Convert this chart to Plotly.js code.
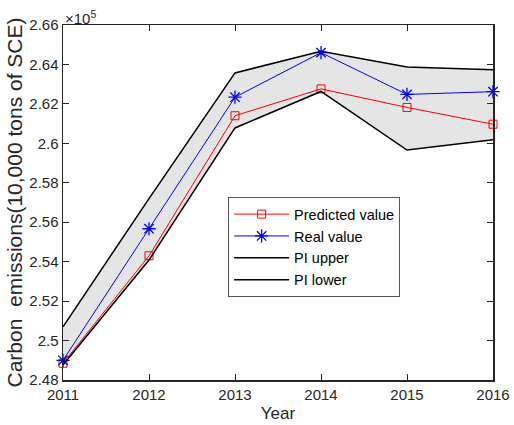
<!DOCTYPE html>
<html>
<head>
<meta charset="utf-8">
<script src="https://cdn.plot.ly/plotly-3.0.1.min.js"></script>
<style>html,body{margin:0;padding:0;background:#fff;}</style>
</head>
<body>
<div id="chart" style="width:514px;height:425px;"></div>
<script>
// Values in units of 10^5 (10,000 tons of SCE)
var years = [2011, 2012, 2013, 2014, 2015, 2016];
var predicted = [2.4885, 2.5430, 2.6140, 2.6276, 2.6182, 2.6097];
var real = [2.4900, 2.5567, 2.6234, 2.6460, 2.6248, 2.6262];
var piUpper = [2.5070, 2.5720, 2.6357, 2.6467, 2.6387, 2.6373];
var piLower = [2.4876, 2.5408, 2.6078, 2.6263, 2.5966, 2.6018];
var yTickVals = [2.48, 2.50, 2.52, 2.54, 2.56, 2.58, 2.60, 2.62, 2.64, 2.66];
var yTickText = ['2.48', '2.5', '2.52', '2.54', '2.56', '2.58', '2.6', '2.62', '2.64', '2.66'];

var bandX = years.concat(years.slice().reverse());
var bandY = piUpper.concat(piLower.slice().reverse());

var traces = [
  {x: bandX, y: bandY, type: 'scatter', mode: 'lines', fill: 'toself',
   fillcolor: '#e5e5e5', line: {width: 0, color: 'rgba(0,0,0,0)'},
   showlegend: false, hoverinfo: 'skip'},
  {x: years, y: predicted, name: 'Predicted value', type: 'scatter', mode: 'lines+markers',
   cliponaxis: false,
   line: {color: '#ff0000', width: 1},
   marker: {symbol: 'square-open', size: 8, color: '#ff0000', line: {width: 1, color: '#ff0000'}}},
  {x: years, y: real, name: 'Real value', type: 'scatter', mode: 'lines+markers',
   cliponaxis: false,
   line: {color: '#0000ff', width: 1},
   marker: {symbol: 'asterisk-open', size: 11, color: '#0000ff', line: {width: 1.3, color: '#0000ff'}}},
  {x: years, y: piUpper, name: 'PI upper', type: 'scatter', mode: 'lines',
   line: {color: '#000000', width: 1.5}},
  {x: years, y: piLower, name: 'PI lower', type: 'scatter', mode: 'lines',
   line: {color: '#000000', width: 1.5}}
];

var axisCommon = {
  showgrid: false, zeroline: false, showline: true, mirror: 'ticks',
  linecolor: '#262626', linewidth: 1.5, ticks: 'inside', ticklen: 6, tickwidth: 1,
  tickcolor: '#262626',
  tickfont: {family: 'Liberation Sans, Arial, sans-serif', size: 15, color: '#262626'}
};

var layout = {
  width: 514, height: 425,
  margin: {l: 63, r: 21, t: 25, b: 45},
  paper_bgcolor: '#ffffff', plot_bgcolor: '#ffffff',
  font: {family: 'Liberation Sans, Arial, sans-serif', color: '#262626'},
  xaxis: Object.assign({}, axisCommon, {
    range: [2011, 2016], tickvals: years, ticktext: years.map(String),
    title: {text: 'Year', font: {size: 17, color: '#262626'}, standoff: 5}
  }),
  yaxis: Object.assign({}, axisCommon, {
    range: [2.48, 2.66], tickvals: yTickVals, ticktext: yTickText,
    title: {text: 'Carbon  emissions(10,000 tons of SCE)', font: {size: 21, color: '#262626'}, standoff: 1}
  }),
  legend: {
    x: 0.384, y: 0.515, xanchor: 'left', yanchor: 'top',
    bgcolor: '#ffffff', bordercolor: '#555555', borderwidth: 1,
    font: {size: 14.5, color: '#000000'}, itemwidth: 55, tracegroupgap: 0
  },
  annotations: [{
    xref: 'paper', yref: 'paper', x: 0, y: 1, xanchor: 'left', yanchor: 'bottom',
    text: '×10<sup>5</sup>', showarrow: false, yshift: -4,
    font: {size: 15, color: '#262626'}
  }]
};

Plotly.newPlot('chart', traces, layout, {displayModeBar: false, staticPlot: true});
</script>
</body>
</html>
